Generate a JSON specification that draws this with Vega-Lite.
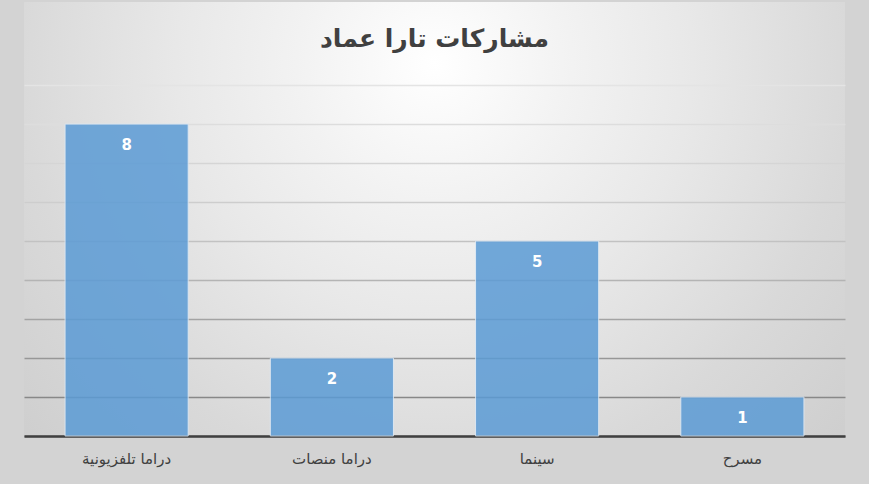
{
  "$schema": "https://vega.github.io/schema/vega-lite/v6.json",
  "width": 821,
  "height": 434,
  "autosize": {"type": "none"},
  "padding": {"left": 24, "top": 2, "right": 24, "bottom": 48},
  "background": "#d3d3d3",
  "title": {
    "text": "مشاركات تارا عماد",
    "font": "DejaVu Sans",
    "fontSize": 25,
    "fontWeight": "bold",
    "color": "#404040",
    "anchor": "middle",
    "offset": -50
  },
  "data": {
    "values": [
      {"category": "دراما تلفزيونية", "count": 8},
      {"category": "دراما منصات", "count": 2},
      {"category": "سينما", "count": 5},
      {"category": "مسرح", "count": 1}
    ]
  },
  "encoding": {
    "x": {
      "field": "category",
      "type": "nominal",
      "sort": null,
      "scale": {"paddingInner": 0.4, "paddingOuter": 0.2},
      "axis": {
        "title": null,
        "labelAngle": 0,
        "labelFont": "DejaVu Sans",
        "labelFontSize": 15,
        "labelColor": "#404040",
        "labelPadding": 15,
        "ticks": false,
        "domainColor": "#404040",
        "domainWidth": 2.5
      }
    },
    "y": {
      "field": "count",
      "type": "quantitative",
      "scale": {"domain": [0, 11.13], "nice": false},
      "axis": {
        "title": null,
        "labels": false,
        "ticks": false,
        "domain": false,
        "values": [0, 1, 2, 3, 4, 5, 6, 7, 8, 9],
        "gridWidth": 1.4,
        "gridColor": {
          "condition": [
            {"test": "datum.value >= 9", "value": "#e4e4e4"},
            {"test": "datum.value >= 8", "value": "#dddddd"},
            {"test": "datum.value >= 7", "value": "#d5d5d5"},
            {"test": "datum.value >= 6", "value": "#cdcdcd"},
            {"test": "datum.value >= 5", "value": "#c2c2c2"},
            {"test": "datum.value >= 4", "value": "#b4b4b4"},
            {"test": "datum.value >= 3", "value": "#a3a3a3"},
            {"test": "datum.value >= 2", "value": "#979797"}
          ],
          "value": "#888888"
        }
      }
    }
  },
  "layer": [
    {
      "mark": {
        "type": "bar",
        "color": "#5b9bd5",
        "opacity": 0.85,
        "stroke": "#dce8f4",
        "strokeWidth": 1
      }
    },
    {
      "mark": {
        "type": "text",
        "color": "#ffffff",
        "font": "DejaVu Sans",
        "fontSize": 15,
        "fontWeight": "bold",
        "baseline": "middle",
        "dy": 21
      },
      "encoding": {"text": {"field": "count", "type": "quantitative"}}
    }
  ],
  "config": {
    "view": {
      "stroke": null,
      "fill": {
        "gradient": "radial",
        "x1": 0.5, "y1": 0.31, "r1": 0,
        "x2": 0.5, "y2": 0.31, "r2": 0.7,
        "stops": [
          {"offset": 0, "color": "#ffffff"},
          {"offset": 0.24, "color": "#f2f2f2"},
          {"offset": 0.45, "color": "#e8e8e8"},
          {"offset": 0.65, "color": "#dddddd"},
          {"offset": 0.72, "color": "#d9d9d9"},
          {"offset": 1, "color": "#cdcdcd"}
        ]
      }
    }
  }
}
